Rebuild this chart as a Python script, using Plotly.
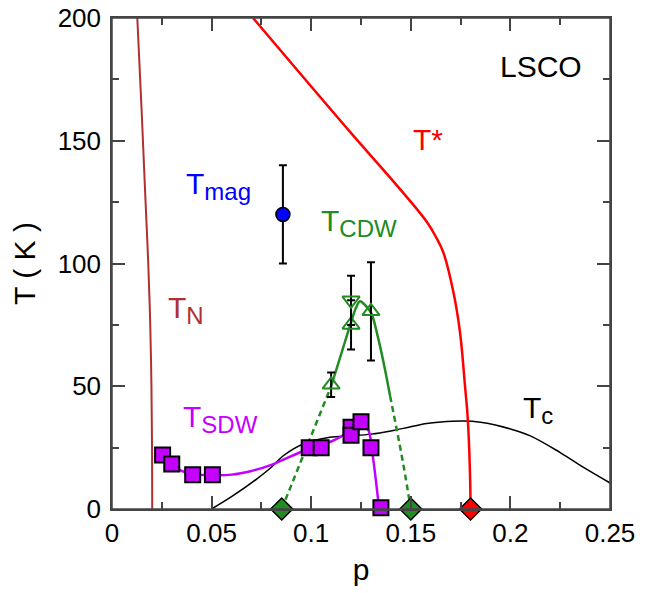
import plotly.graph_objects as go

# ---------------- data ----------------
# Neel temperature line T_N
tn_p = [0.0127, 0.0150, 0.0168, 0.0182, 0.0192, 0.0198, 0.0201, 0.0202]
tn_T = [200, 160, 126, 100, 75, 50, 25, 0]

# pseudogap T*
ts_p = [0.0708, 0.1195, 0.1446, 0.1580, 0.1625, 0.1663, 0.1714, 0.1747, 0.1772, 0.1786, 0.1797, 0.1800]
ts_T = [200, 153.6, 130.3, 117, 111, 104.6, 88.3, 72, 50.2, 36.7, 15, 0]

# superconducting dome Tc
tc_p = [0.05, 0.06, 0.0726, 0.08, 0.086, 0.096, 0.1094, 0.12, 0.13, 0.14, 0.15, 0.158, 0.165, 0.176,
        0.185, 0.20, 0.21, 0.225, 0.238, 0.25]
tc_T = [0, 5, 12.2, 17, 21.7, 26.5, 29.2, 29.8, 30.5, 31.8, 33.5, 34.8, 35.4, 35.8,
        35.3, 32.6, 29.8, 23, 16.3, 10.6]

# SDW guide line and data
sdw_line_p = [0.0254, 0.030, 0.035, 0.040, 0.05, 0.06, 0.07, 0.08, 0.09, 0.10, 0.11, 0.12, 0.125, 0.1285, 0.1305, 0.134]
sdw_line_T = [22, 18, 15.5, 14.2, 13.8, 14, 15.5, 18, 21.5, 25, 27.5, 32, 35, 32.5, 24, 0.8]
sdw_p = [0.0254, 0.030, 0.0405, 0.0504, 0.099, 0.105, 0.120, 0.120, 0.125, 0.130, 0.135]
sdw_T = [22, 18.3, 14, 14, 25, 25, 33.3, 30, 35.5, 25, 0.5]

# CDW guide lines and data
cdw_solid_p = [0.110, 0.115, 0.120, 0.1225, 0.1245, 0.1265, 0.130, 0.1335, 0.137, 0.1396]
cdw_solid_T = [50, 63, 76, 82, 84.6, 83.5, 80, 70, 57, 46]
cdw_dash_left_p = [0.0852, 0.110]
cdw_dash_left_T = [0, 50]
cdw_dash_right_p = [0.1396, 0.1429, 0.1465, 0.150]
cdw_dash_right_T = [46, 32.6, 17, 0]
cdw_up_p = [0.110, 0.120, 0.130]
cdw_up_T = [50.6, 75, 80.5]
cdw_up_err = [5, 10, 20]
cdw_dn_p = [0.120]
cdw_dn_T = [85]
cdw_dn_err = [10]

# magnetic order
mag_p = [0.0858]
mag_T = [120]
mag_err = [20]

# end points at T = 0
cdw_end_p = [0.0852, 0.150]
cdw_end_T = [0, 0]
ts_end_p = [0.180]
ts_end_T = [0]

x_ticks = [0, 0.05, 0.1, 0.15, 0.2, 0.25]
x_ticklabels = ["0", "0.05", "0.1", "0.15", "0.2", "0.25"]
y_ticks = [0, 50, 100, 150, 200]

# ---------------- style ----------------
GREEN = "#228b22"
PURPLE = "#c400ff"
BROWN = "#b03030"
BLUE = "#0000ff"
FONT = "Liberation Sans, Arial, Helvetica, sans-serif"

fig = go.Figure()

fig.add_trace(go.Scatter(x=tc_p, y=tc_T, mode="lines", line=dict(color="black", width=1.5, shape="spline")))
fig.add_trace(go.Scatter(x=tn_p, y=tn_T, mode="lines", line=dict(color=BROWN, width=2, shape="spline")))
fig.add_trace(go.Scatter(x=ts_p, y=ts_T, mode="lines", line=dict(color="red", width=2.5, shape="spline")))
fig.add_trace(go.Scatter(x=sdw_line_p, y=sdw_line_T, mode="lines", line=dict(color=PURPLE, width=2.5, shape="spline")))
fig.add_trace(go.Scatter(x=cdw_dash_left_p, y=cdw_dash_left_T, mode="lines", line=dict(color=GREEN, width=2.5, dash="6px,4px")))
fig.add_trace(go.Scatter(x=cdw_dash_right_p, y=cdw_dash_right_T, mode="lines", line=dict(color=GREEN, width=2.5, dash="6px,4px", shape="spline")))
fig.add_trace(go.Scatter(x=cdw_solid_p, y=cdw_solid_T, mode="lines", line=dict(color=GREEN, width=2.5, shape="spline")))

# error bars + markers
fig.add_trace(go.Scatter(x=cdw_up_p, y=cdw_up_T, mode="markers",
                         error_y=dict(type="data", array=cdw_up_err, color="black", thickness=2, width=4),
                         marker=dict(symbol="triangle-up-open", size=15, color=GREEN, line=dict(width=2, color=GREEN))))
fig.add_trace(go.Scatter(x=cdw_dn_p, y=cdw_dn_T, mode="markers",
                         error_y=dict(type="data", array=cdw_dn_err, color="black", thickness=2, width=4),
                         marker=dict(symbol="triangle-down-open", size=15, color=GREEN, line=dict(width=2, color=GREEN))))
fig.add_trace(go.Scatter(x=mag_p, y=mag_T, mode="markers",
                         error_y=dict(type="data", array=mag_err, color="black", thickness=2, width=4),
                         marker=dict(symbol="circle", size=14, color=BLUE, line=dict(width=1.5, color="black"))))
fig.add_trace(go.Scatter(x=sdw_p, y=sdw_T, mode="markers", cliponaxis=False,
                         marker=dict(symbol="square", size=15, color=PURPLE, line=dict(width=2, color="black"))))
fig.add_trace(go.Scatter(x=cdw_end_p, y=cdw_end_T, mode="markers", cliponaxis=False,
                         marker=dict(symbol="diamond", size=17, color=GREEN, line=dict(width=1.5, color="black"))))
fig.add_trace(go.Scatter(x=ts_end_p, y=ts_end_T, mode="markers", cliponaxis=False,
                         marker=dict(symbol="diamond", size=17, color="red", line=dict(width=1.5, color="black"))))


def sub(main, s):
    return main + "<sub><span style='font-size:24px'>" + s + "</span></sub>"


labels = [
    ("LSCO", 0.1938, 180.4, "black"),
    ("T*", 0.150, 150.7, "red"),
    (sub("T", "mag"), 0.0362, 131.5, BLUE),
    (sub("T", "CDW"), 0.1038, 116.5, GREEN),
    (sub("T", "N"), 0.0270, 81, BROWN),
    (sub("T", "SDW"), 0.0345, 36.5, PURPLE),
    (sub("T", "c"), 0.2053, 40.5, "black"),
]
for txt, x, y, c in labels:
    fig.add_annotation(x=x, y=y, xref="x", yref="y", text=txt, showarrow=False,
                       xanchor="left", yanchor="middle", font=dict(size=30, color=c, family=FONT))

axis_common = dict(showline=True, linecolor="#444", linewidth=1.5, mirror="allticks",
                   ticks="inside", ticklen=13, tickwidth=1.5, tickcolor="#444",
                   showgrid=False, zeroline=False, automargin=False,
                   ticklabeloverflow="allow",
                   tickfont=dict(size=26, color="black", family=FONT),
                   title_font=dict(size=30, color="black", family=FONT))

fig.update_xaxes(range=[0, 0.25], tickvals=x_ticks, ticktext=x_ticklabels,
                 minor=dict(dtick=0.025, ticks="inside", ticklen=7, tickwidth=1.5, tickcolor="#444"),
                 title_text="p", title_standoff=12, **axis_common)
fig.update_yaxes(range=[0, 200], tickvals=y_ticks, ticklabelstandoff=4,
                 minor=dict(dtick=25, ticks="inside", ticklen=7, tickwidth=1.5, tickcolor="#444"),
                 title_text="T ( K )", title_standoff=14, **axis_common)

# frame around the plotting area
fig.add_shape(type="rect", xref="paper", yref="paper", x0=0, x1=1, y0=0, y1=1,
              line=dict(color="#444", width=1.5), layer="above")

fig.update_layout(width=650, height=593, margin=dict(l=104, r=48, t=10, b=92),
                  plot_bgcolor="white", paper_bgcolor="white", showlegend=False,
                  font=dict(family=FONT))

fig.write_html("out.html")
